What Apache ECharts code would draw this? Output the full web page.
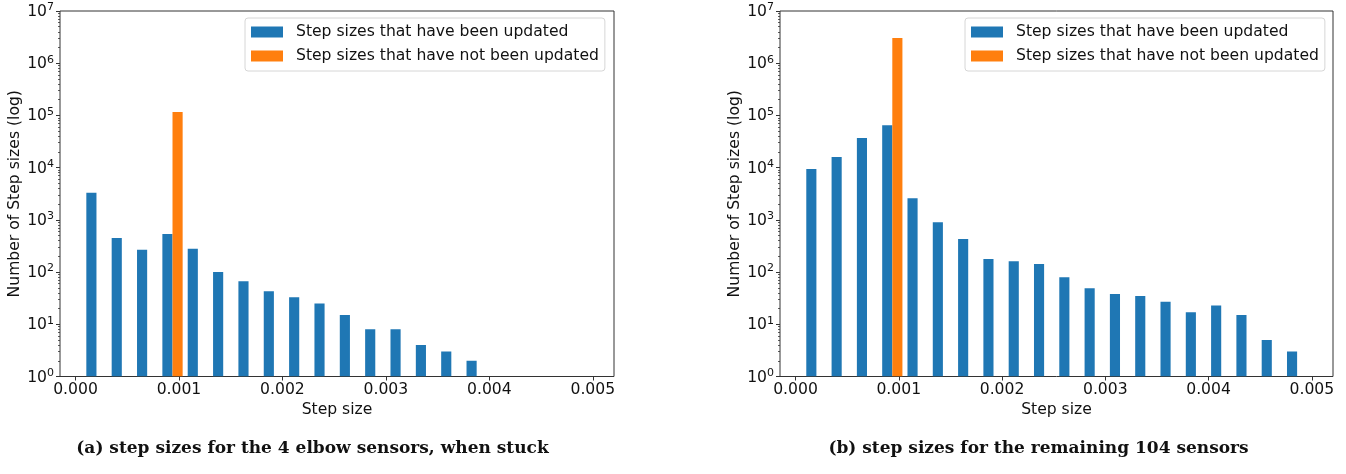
<!DOCTYPE html>
<html>
<head>
<meta charset="utf-8">
<script src="https://cdn.jsdelivr.net/npm/echarts@6/dist/echarts.min.js"></script>
<style>html,body{margin:0;padding:0;background:#fff}#c{width:1346px;height:474px}</style>
</head>
<body>
<div id="c"></div>
<script>
// Histogram bins (step size)
const binStart = 0.00008;
const binWidth = 0.000245;
const binIndex = [0,1,2,3,4,5,6,7,8,9,10,11,12,13,14,15,16,17,18,19];
// Panel (a): 4 elbow sensors, when stuck
const leftUpdated    = [3300, 447, 267, 534, 279, 100, 67, 43, 33, 25, 15, 8, 8, 4, 3, 2, 0, 0, 0, 0];
const leftNotUpdated = [0, 0, 0, 116000, 0, 0, 0, 0, 0, 0, 0, 0, 0, 0, 0, 0, 0, 0, 0, 0];
// Panel (b): remaining 104 sensors
const rightUpdated    = [9400, 16000, 37000, 65000, 2600, 900, 430, 177, 162, 142, 80, 49, 38, 35, 27, 17, 23, 15, 5, 3];
const rightNotUpdated = [0, 0, 0, 3040000, 0, 0, 0, 0, 0, 0, 0, 0, 0, 0, 0, 0, 0, 0, 0, 0];
// Axis ticks
const xTicks = [0, 0.001, 0.002, 0.003, 0.004, 0.005];
const yTicks = [1, 10, 100, 1000, 10000, 100000, 1000000, 10000000];
const yMinorTicks = [];
for (let d = 1; d < 1e7; d *= 10) for (let k = 2; k <= 9; k++) yMinorTicks.push(k * d);

const nameUpdated = 'Step sizes that have been updated';
const nameNotUpdated = 'Step sizes that have not been updated';
const captionA = '(a) step sizes for the 4 elbow sensors, when stuck';
const captionB = '(b) step sizes for the remaining 104 sensors';

const FONT = 'DejaVu Sans';
const FS = 15.6;

function makeRender(offset) {
  return function (params, api) {
    const i = api.value(0), v = api.value(1);
    if (!(v > 0)) return null;
    const x0 = binStart + i * binWidth + offset * binWidth;
    const x1 = x0 + 0.4 * binWidth;
    const p0 = api.coord([x0, v]);
    const p1 = api.coord([x1, 1]);
    return {
      type: 'rect',
      shape: { x: p0[0], y: p0[1], width: p1[0] - p0[0], height: p1[1] - p0[1] },
      style: api.style()
    };
  };
}

const grids = [
  { left: 60, width: 554, top: 11, height: 365.5, show: true, borderColor: '#333', borderWidth: 1, backgroundColor: 'transparent' },
  { left: 780, width: 553, top: 11, height: 365.5, show: true, borderColor: '#333', borderWidth: 1, backgroundColor: 'transparent' }
];

function xAxisFor(g) {
  return {
    type: 'value', gridIndex: g, min: -0.00015, max: 0.005205, position: 'bottom',
    name: 'Step size', nameLocation: 'middle', nameGap: 22,
    nameTextStyle: { fontFamily: FONT, fontSize: FS, color: '#111' },
    axisLine: { show: false, onZero: false },
    splitLine: { show: false },
    axisTick: { show: true, inside: false, length: 4, customValues: xTicks, lineStyle: { color: '#333' } },
    axisLabel: { customValues: xTicks, margin: 5, fontFamily: FONT, fontSize: FS, color: '#111',
      formatter: v => v.toFixed(3) }
  };
}
function yAxisFor(g) {
  return {
    type: 'log', gridIndex: g, min: 1, max: 1e7, logBase: 10, position: 'left',
    name: 'Number of Step sizes (log)', nameLocation: 'middle', nameGap: 33,
    nameTextStyle: { fontFamily: FONT, fontSize: FS, color: '#111' },
    axisLine: { show: false, onZero: false },
    splitLine: { show: false },
    axisTick: { show: true, inside: false, length: 4, customValues: yTicks, lineStyle: { color: '#333' } },
    axisLabel: {
      customValues: yTicks, margin: 6,
      formatter: v => '{b|10}{s|' + Math.round(Math.log10(v)) + '}',
      rich: {
        b: { fontFamily: FONT, fontSize: FS, color: '#111', verticalAlign: 'bottom' },
        s: { fontFamily: FONT, fontSize: 11, color: '#111', verticalAlign: 'bottom', padding: [0, 0, 7, 0] }
      }
    }
  };
}
function yMinorFor(g) {
  return {
    type: 'log', gridIndex: g, min: 1, max: 1e7, logBase: 10, position: 'left',
    axisLine: { show: false, onZero: false }, splitLine: { show: false },
    axisTick: { show: true, inside: false, length: 2, customValues: yMinorTicks, lineStyle: { color: '#333', width: 0.8 } },
    axisLabel: { show: false }
  };
}

function legendFor(left) {
  return {
    orient: 'vertical', left: left, top: 18, selectedMode: false,
    data: [nameUpdated, nameNotUpdated],
    icon: 'rect', itemWidth: 32, itemHeight: 11, itemGap: 8,
    padding: [6, 6, 7, 6],
    borderColor: '#d6d6d6', borderWidth: 1, borderRadius: 3,
    backgroundColor: 'rgba(255,255,255,0.8)',
    textStyle: { fontFamily: FONT, fontSize: FS, color: '#111', lineHeight: 15, padding: [0, 0, 0, 8] }
  };
}

function seriesFor(g, name, values, color, offset) {
  return {
    type: 'custom', name: name, xAxisIndex: g, yAxisIndex: g === 0 ? 0 : 2,
    renderItem: makeRender(offset),
    itemStyle: { color: color },
    encode: { x: 0, y: 1 },
    data: binIndex.map((i, k) => [i, values[k]]),
    clip: true, silent: true
  };
}

const chart = echarts.init(document.getElementById('c'), null, { renderer: 'canvas' });
chart.setOption({
  animation: false,
  backgroundColor: '#fff',
  grid: grids,
  xAxis: [xAxisFor(0), xAxisFor(1)],
  yAxis: [yAxisFor(0), yMinorFor(0), yAxisFor(1), yMinorFor(1)],
  legend: [legendFor(245), legendFor(965)],
  series: [
    seriesFor(0, nameUpdated, leftUpdated, '#1f77b4', 0.1),
    seriesFor(0, nameNotUpdated, leftNotUpdated, '#ff7f0e', 0.5),
    seriesFor(1, nameUpdated, rightUpdated, '#1f77b4', 0.1),
    seriesFor(1, nameNotUpdated, rightNotUpdated, '#ff7f0e', 0.5)
  ],
  graphic: [
    { type: 'text', x: 312.5, y: 449, style: { text: captionA, x: 0, y: 0, align: 'center', verticalAlign: 'middle',
      font: 'bold 17px "DejaVu Serif"', fill: '#111' } },
    { type: 'text', x: 1038.5, y: 449, style: { text: captionB, x: 0, y: 0, align: 'center', verticalAlign: 'middle',
      font: 'bold 17px "DejaVu Serif"', fill: '#111' } }
  ]
});
</script>
</body>
</html>
